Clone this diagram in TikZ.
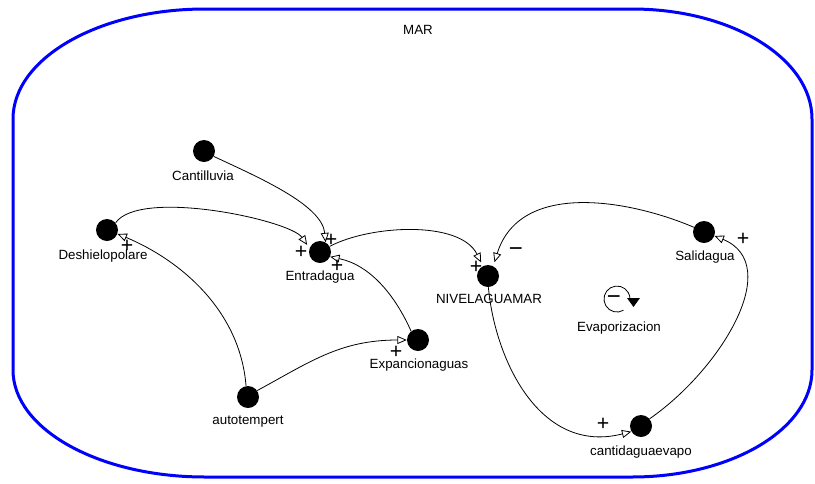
\documentclass[tikz,border=0pt]{standalone}
\usepackage{fontspec}
\setmainfont{Liberation Sans}
\usetikzlibrary{arrows.meta}
\begin{document}
\begin{tikzpicture}[x=0.75pt,y=-0.75pt,
  var/.style={circle, fill=black, minimum size=16.5pt, inner sep=0pt},
  lbl/.style={font=\fontsize{10}{12}\selectfont, inner sep=0pt},
  sgn/.style={font=\fontsize{16}{16}\selectfont, inner sep=0pt},
  msgn/.style={font=\fontsize{18}{18}\selectfont, inner sep=0pt},
  link/.style={line width=0.6pt, -{Triangle[open, length=7pt, width=6pt]}},
  border/.style={draw=blue, line width=2.25pt}]
\useasboundingbox (0,0) rectangle (815,483);
% border
\draw[border] (13,119) .. controls (13,58.2) and (99,9) .. (205,9)
  -- (632,9) .. controls (731.4,9) and (812,58.2) .. (812,119)
  -- (812,370) .. controls (812,429.1) and (731.4,477) .. (632,477)
  -- (205,477) .. controls (99,477) and (13,429.1) .. (13,370) -- cycle;
\node[lbl] (lmar) at (418,30) {MAR};
% variables
\node[var] (cant) at (204,151) {};
\node[var] (desh) at (107,230) {};
\node[var] (entr) at (320,252) {};
\node[var] (nivel) at (488,276) {};
\node[var] (sal) at (704,232) {};
\node[var] (expa) at (418,340) {};
\node[var] (auto) at (248,397) {};
\node[var] (cevap) at (641,426) {};
% labels
\node[lbl] (lcant) at (203,176) {Cantilluvia};
\node[lbl] (ldesh) at (103,256) {Deshielopolare};
\node[lbl] (lentr) at (320,277) {Entradagua};
\node[lbl] (lnivel) at (489,299) {NIVELAGUAMAR};
\node[lbl] (lsal) at (705,257) {Salidagua};
\node[lbl] (lexpa) at (419,365) {Expancionaguas};
\node[lbl] (lauto) at (248,422) {autotempert};
\node[lbl] (lcevap) at (641,452) {cantidaguaevapo};
% connectors
\draw[link] (cant.-29) .. controls (260,178) and (322,205) .. (entr.60);
\draw[link, shorten >=3pt] (desh.40) .. controls (140,188) and (290,220) .. (entr.160);
\draw[link] (auto.100) .. controls (240,310) and (180,260) .. (desh.-20);
\draw[link] (auto.35) .. controls (310,362) and (340,340) .. (expa.180);
\draw[link] (expa.128) .. controls (395,295) and (370,265) .. (entr.-25);
\draw[link, shorten >=3pt] (entr.30) .. controls (370,225) and (460,220) .. (nivel.117);
\draw[link, shorten >=3pt] (sal.155) .. controls (630,200) and (520,180) .. (nivel.62);
\draw[link] (nivel.-88) .. controls (495,360) and (540,455) .. (cevap.210);
\draw[link] (cevap.40) .. controls (720,370) and (785,265) .. (sal.-20);
% polarity signs
\node[sgn] (s1) at (127,246) {+};
\node[sgn] (s2) at (301,252) {+};
\node[sgn] (s3) at (331,240) {+};
\node[sgn] (s4) at (337,266) {+};
\node[sgn] (s5) at (396,352) {+};
\node[sgn] (s6) at (476,267) {+};
\node[msgn] (s7) at (516,252) {−};
\node[sgn] (s8) at (603,424) {+};
\node[sgn] (s9) at (743,239) {+};
% loop icon
\coordinate (loopc) at (617,299);
\draw[line width=0.6pt] (623.5,310.3) arc[start angle=60, end angle=360, radius=13];
\fill (627,298) -- (640,298) -- (633.5,307) -- cycle;
\node[msgn] (lsign) at (614,300) {−};
\node[lbl] (levap) at (619,328) {Evaporizacion};
\end{tikzpicture}
\end{document}
